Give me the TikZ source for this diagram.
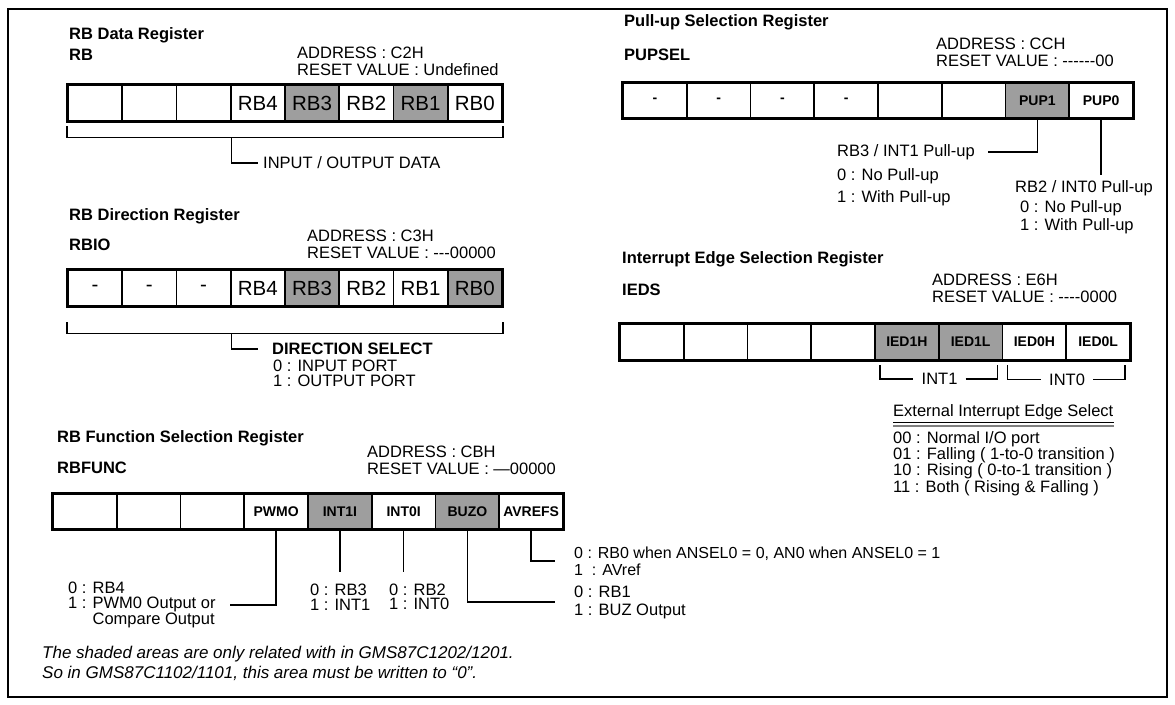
\documentclass[tikz,border=0pt]{standalone}
\usepackage{fontspec}
\setmainfont{Liberation Sans}
\usetikzlibrary{positioning}
\colorlet{shade}{black!38}

\begin{document}
\begin{tikzpicture}[x=1pt, y=1pt,
    txt/.style={anchor=west, inner sep=0pt, align=left, font=\fontsize{16.5}{18}\selectfont},
    ttl/.style={txt, font=\fontsize{16.5}{18}\selectfont\bfseries},
    wide/.style={draw, line width=1.6pt, fill=#1, minimum width=54.25pt, minimum height=35pt, inner sep=0pt, font=\fontsize{20.5}{20.5}\selectfont},
    narrow/.style={draw, line width=1.6pt, fill=#1, minimum width=63.75pt, minimum height=35pt, inner sep=0pt, font=\fontsize{14}{14}\selectfont\bfseries},
    regframe/.style={line width=3pt},
    wire/.style={line width=1.5pt}]
    \useasboundingbox (0,0) rectangle (1175,-704);
    \draw[line width=1.3pt] (8,-9) rectangle (1167,-697);

    % RB data register
    \node[ttl] (rbttl) at (69,-35) {RB Data Register};
    \node[ttl] (rbname) at (69,-55) {RB};
    \node[txt] (rbaddr) at (297,-53) {ADDRESS : C2H};
    \node[txt] (rbrst) at (297,-70) {RESET VALUE : Undefined};
    \foreach \lab/\sh [count=\i] in {/white,/white,/white,RB4/white,RB3/shade,RB2/white,RB1/shade,RB0/white}
        \node[wide=\sh] (rb\i) at ({68+54.25*(\i-0.5)},-103) {\lab};
    \draw[regframe] (rb1.north west) rectangle (rb8.south east);
    \node[txt] (rbnote) at (263,-163) {INPUT / OUTPUT DATA};
    \draw[wire] ([yshift=-5pt]rb1.south west) |- ([yshift=-16pt]rb4.south) -| ([yshift=-5pt]rb8.south east);
    \draw[wire] ([yshift=-16pt]rb3.south east) |- ([xshift=-5pt]rbnote.west);

    % RB direction register
    \node[ttl] (iottl) at (69,-216) {RB Direction Register};
    \node[ttl] (ioname) at (69,-245) {RBIO};
    \node[txt] (ioaddr) at (307,-236) {ADDRESS : C3H};
    \node[txt] (iorst) at (307,-253) {RESET VALUE : -{}-{}-00000};
    \foreach \lab/\sh [count=\i] in {-/white,-/white,-/white,RB4/white,RB3/shade,RB2/white,RB1/white,RB0/shade}
        \node[wide=\sh] (io\i) at ({68+54.25*(\i-0.5)},-288) {\lab};
    \draw[regframe] (io1.north west) rectangle (io8.south east);
    \draw[wire] ([yshift=-16pt]io1.south west) |- ([yshift=-27pt]io4.south) -| ([yshift=-16pt]io8.south east);
    \node[ttl] (iosel) at (272,-349) {DIRECTION SELECT};
    \node[txt, font=\fontsize{16.5}{15}\selectfont, below right=5pt and 1pt of iosel.south west] (iolist) {0 : INPUT PORT\\1 : OUTPUT PORT};
    \draw[wire] ([yshift=-27pt]io3.south east) |- ([xshift=-14pt]iosel.west);

    % RB function selection register
    \node[ttl] (fnttl) at (57,-438) {RB Function Selection Register};
    \node[ttl] (fnname) at (57,-468) {RBFUNC};
    \node[txt] (fnaddr) at (367,-452) {ADDRESS : CBH};
    \node[txt] (fnrst) at (367,-469) {RESET VALUE : ---00000};
    \foreach \lab/\sh [count=\i] in {/white,/white,/white,PWMO/white,INT1I/shade,INT0I/white,BUZO/shade,AVREFS/white}
        \node[narrow=\sh] (fn\i) at ({53+63.75*(\i-0.5)},-511.5) {\lab};
    \draw[regframe] (fn1.north west) rectangle (fn8.south east);
    \node[txt, font=\fontsize{16.5}{14.5}\selectfont] (pwmtxt) at (68,-605) {0 : RB4\\1 : PWM0 Output or\\\phantom{1 : }Compare Output};
    \draw[wire] (fn4.south) |- ([xshift=14pt]pwmtxt.east);
    \node[txt, font=\fontsize{16.5}{14.5}\selectfont] (i1txt) at (310,-597) {0 : RB3\\1 : INT1};
    \node[txt, font=\fontsize{16.5}{14.5}\selectfont] (i0txt) at (389,-597) {0 : RB2\\1 : INT0};
    \draw[wire, shorten >=12pt] (fn5.south) -- (fn5.south |- i1txt.north);
    \draw[wire, shorten >=12pt] (fn6.south) -- (fn6.south |- i0txt.north);
    \node[txt] (buztxt) at (574,-602) {0 : RB1\\1 : BUZ Output};
    \draw[wire] (fn7.south) |- ([xshift=-19pt]buztxt.west);
    \node[txt, font=\fontsize{16}{17}\selectfont] (avtxt) at (574,-561) {0 : RB0 when ANSEL0 = 0, AN0 when ANSEL0 = 1\\1\ \ : AVref};
    \draw[wire] (fn8.south) |- ([xshift=-19pt]avtxt.west);

    \node[txt, font=\fontsize{17}{20}\selectfont\itshape, anchor=north west] (note) at (42,-646) {The shaded areas are only related with in GMS87C1202/1201.\\So in GMS87C1102/1101, this area must be written to “0”.};

    % pull-up selection register
    \node[ttl] (puttl) at (624,-22) {Pull-up Selection Register};
    \node[ttl] (puname) at (624,-55) {PUPSEL};
    \node[txt] (puaddr) at (936,-44) {ADDRESS : CCH};
    \node[txt] (purst) at (936,-61) {RESET VALUE : -{}-{}-{}-{}-{}-00};
    \foreach \lab/\sh [count=\i] in {-/white,-/white,-/white,-/white,/white,/white,PUP1/shade,PUP0/white}
        \node[narrow=\sh] (pu\i) at ({623+63.75*(\i-0.5)},-100.5) {\lab};
    \draw[regframe] (pu1.north west) rectangle (pu8.south east);
    \node[txt] (pu1a) at (837,-152) {RB3 / INT1 Pull-up};
    \node[txt, font=\fontsize{16.5}{22}\selectfont, below right=8pt and 0pt of pu1a.south west] (pu1b) {0 : No Pull-up\\1 : With Pull-up};
    \draw[wire] (pu7.south) |- ([xshift=13pt]pu1a.east);
    \node[txt] (pu0a) at (1015,-188) {RB2 / INT0 Pull-up};
    \node[txt, below right=4pt and 5pt of pu0a.south west] (pu0b) {0 : No Pull-up\\1 : With Pull-up};
    \draw[wire, shorten >=5pt] (pu8.south) -- (pu8.south |- pu0a.north);

    % interrupt edge selection register
    \node[ttl] (iettl) at (622,-259) {Interrupt Edge Selection Register};
    \node[ttl] (iename) at (622,-290) {IEDS};
    \node[txt] (ieaddr) at (932,-280) {ADDRESS : E6H};
    \node[txt] (ierst) at (932,-297) {RESET VALUE : -{}-{}-{}-0000};
    \foreach \lab/\sh [count=\i] in {/white,/white,/white,/white,IED1H/shade,IED1L/shade,IED0H/white,IED0L/white}
        \node[narrow=\sh] (ie\i) at ({620+63.75*(\i-0.5)},-342) {\lab};
    \draw[regframe] (ie1.north west) rectangle (ie8.south east);
    \node[txt, inner xsep=8pt, below=13pt of ie5.south east] (int1lab) {INT1};
    \draw[wire] ([shift={(6pt,-5pt)}]ie5.south west) |- (int1lab.west);
    \draw[wire] (int1lab.east) -| ([shift={(-6pt,-5pt)}]ie6.south east);
    \node[txt, inner xsep=8pt, below=13pt of ie7.south east] (int0lab) {INT0};
    \draw[wire] ([shift={(6pt,-5pt)}]ie7.south west) |- (int0lab.west);
    \draw[wire] (int0lab.east) -| ([shift={(-6pt,-5pt)}]ie8.south east);
    \node[txt] (eis) at (893,-412) {External Interrupt Edge Select};
    \draw[line width=0.8pt] ([yshift=-3pt]eis.south west) -- ([yshift=-3pt]eis.south east);
    \draw[line width=1.8pt, gray] ([yshift=-6.5pt]eis.south west) -- ([yshift=-6.5pt]eis.south east);
    \node[txt, font=\fontsize{16.5}{14}\selectfont, below right=11pt and 0pt of eis.south west] (eislist) {00 : Normal I/O port\\01 : Falling ( 1-to-0 transition )\\10 : Rising ( 0-to-1 transition )\\11 : Both ( Rising \& Falling )};
\end{tikzpicture}
\end{document}
